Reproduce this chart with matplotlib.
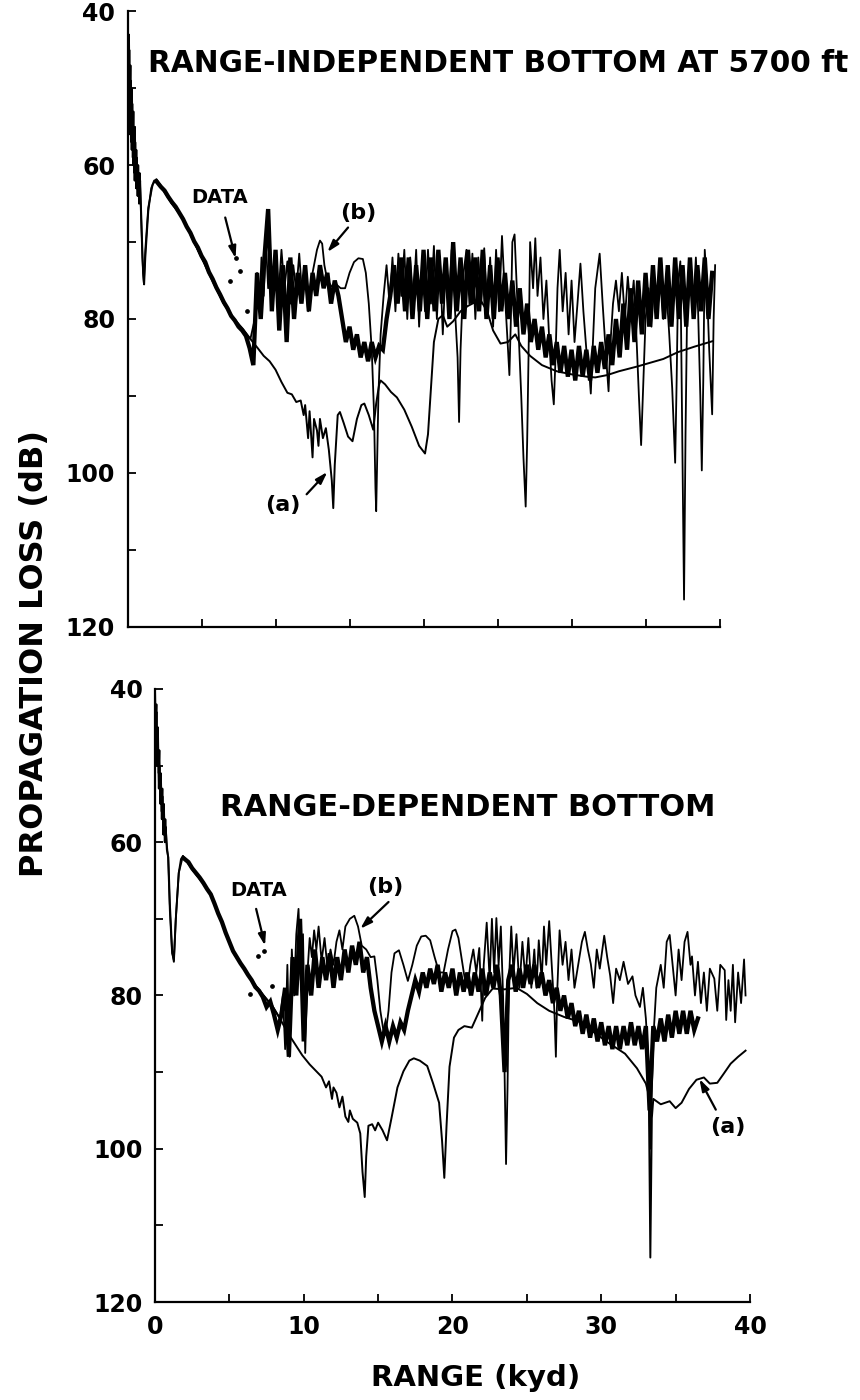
import numpy as np
import matplotlib.pyplot as plt
from matplotlib.ticker import MultipleLocator

plt.rcParams['font.family'] = ['DejaVu Sans']
plt.rcParams['font.weight'] = 'bold'

# ---- range-independent bottom (upper panel) ----
# model curve (a): (range kyd, loss dB)
TOP_A = [(0.0, 40), (0.08, 52), (0.12, 45), (0.18, 56), (0.22, 49), (0.28, 58), (0.32, 52),
         (0.38, 60), (0.42, 55), (0.48, 62), (0.52, 57), (0.58, 63), (0.62, 59), (0.68, 64),
         (0.72, 60), (0.78, 65), (0.85, 62), (0.95, 68), (1.05, 74), (1.12, 75.5), (1.2, 72),
         (1.4, 66), (1.6, 63), (1.8, 62), (1.95, 61.9), (2.1, 62.3), (2.5, 63.5), (3.0, 65),
         (3.7, 66.8), (4.5, 70), (5.0, 72), (5.7, 74.9), (6.5, 78), (7.2, 80), (7.8, 81.3),
         (8.3, 82.6), (8.8, 83.8), (9.2, 84.8), (9.6, 85.5), (10.0, 86.6), (10.4, 88.2),
         (10.8, 89.6), (11.1, 89.8), (11.4, 90.8), (11.7, 90.6), (11.9, 92.5), (12.0, 91.2),
         (12.2, 95.5), (12.3, 92), (12.5, 98), (12.6, 93), (12.8, 94.5), (12.9, 96.5),
         (13.0, 93), (13.2, 95.5), (13.4, 94.2), (13.6, 97), (13.8, 101), (13.9, 104.6),
         (14.0, 99), (14.2, 92.5), (14.35, 92.1), (14.6, 93.5), (14.9, 95.3), (15.2, 95.9),
         (15.5, 93), (15.8, 91.2), (16.0, 91), (16.3, 92.5), (16.6, 94.4), (16.8, 91),
         (17.0, 88.5), (17.1, 88), (17.4, 88.5), (17.8, 89.5), (18.2, 90.2), (18.7, 91.8),
         (19.2, 94), (19.7, 96.5), (20.1, 97.5), (20.3, 95), (20.5, 89), (20.7, 83), (21.0, 80),
         (21.3, 79.5), (21.6, 81), (22.0, 80.3), (22.5, 79), (23.0, 78.3), (23.5, 77.8),
         (23.9, 77.7), (24.3, 79), (24.7, 81.5), (25.2, 83.2), (25.7, 83), (26.2, 82),
         (26.6, 83.5), (27.2, 84.8), (28.0, 86), (29.0, 86.8), (30.0, 87.2), (31.0, 87.5),
         (31.6, 87.6), (32.4, 87.3), (33.2, 86.8), (34.4, 86.2), (35.3, 85.7), (36.2, 85.2),
         (37.2, 84.3), (38.3, 83.6), (39.5, 82.9)]

# model curve (b)
TOP_B = [(0.0, 41), (0.05, 47), (0.1, 43), (0.15, 53), (0.2, 47), (0.25, 57), (0.3, 50),
         (0.35, 59), (0.4, 53), (0.45, 61), (0.5, 55), (0.55, 62), (0.6, 58), (0.65, 63),
         (0.7, 60), (0.75, 64), (0.82, 61), (0.9, 66), (1.0, 72), (1.1, 75.3), (1.2, 71),
         (1.4, 65.5), (1.7, 62.5), (1.95, 61.8), (2.3, 62.8), (3.0, 65), (3.7, 66.7), (4.5, 70),
         (5.7, 74.8), (6.5, 78), (7.2, 80), (7.8, 81.4), (8.3, 82.6), (8.6, 80), (8.75, 74),
         (8.9, 79), (9.05, 72), (9.2, 77), (9.35, 70), (9.5, 76), (9.65, 71), (9.8, 78),
         (10.0, 72), (10.2, 77), (10.4, 71), (10.6, 76), (10.8, 72.5), (11.0, 78), (11.2, 73),
         (11.4, 76.5), (11.6, 71.5), (11.8, 77), (12.0, 74), (12.2, 79), (12.4, 75), (12.6, 73),
         (12.8, 71), (13.0, 69.8), (13.15, 70.2), (13.3, 73), (13.5, 75), (13.8, 75.8),
         (14.1, 75.5), (14.4, 76), (14.7, 76), (15.0, 74), (15.3, 72.6), (15.6, 72.1),
         (15.9, 72.2), (16.1, 74), (16.3, 78), (16.5, 84), (16.65, 92), (16.75, 102),
         (16.8, 105), (16.85, 100), (16.95, 90), (17.1, 82), (17.3, 77), (17.5, 73),
         (17.7, 78), (17.9, 72), (18.1, 79), (18.3, 71.5), (18.5, 77), (18.7, 71), (18.9, 80),
         (19.1, 72), (19.3, 78), (19.5, 71), (19.7, 81), (19.9, 73), (20.1, 79), (20.3, 71),
         (20.5, 78), (20.7, 70.5), (20.9, 80), (21.1, 72), (21.3, 82), (21.5, 73), (21.7, 79),
         (21.9, 71), (22.1, 78), (22.3, 85), (22.4, 93.4), (22.5, 84), (22.7, 74), (22.9, 71),
         (23.1, 78), (23.3, 71.5), (23.5, 80), (23.7, 72), (23.9, 78), (24.1, 70.8), (24.3, 79),
         (24.5, 72), (24.7, 81), (24.9, 71), (25.1, 79), (25.3, 69.2), (25.5, 77), (25.65, 82),
         (25.8, 87.3), (25.9, 80), (26.0, 70), (26.15, 69), (26.3, 76), (26.45, 83), (26.6, 90),
         (26.75, 98), (26.9, 104.4), (27.0, 96), (27.1, 84), (27.2, 70), (27.4, 76),
         (27.55, 69.5), (27.7, 77), (27.9, 72), (28.1, 80), (28.3, 75), (28.5, 83), (28.65, 88),
         (28.8, 91.1), (28.9, 86), (29.05, 76), (29.2, 71), (29.4, 79), (29.6, 74), (29.8, 82),
         (30.0, 75), (30.2, 83), (30.4, 78), (30.6, 72.8), (30.8, 79), (31.0, 84), (31.2, 87),
         (31.3, 89.7), (31.4, 85), (31.6, 76), (31.9, 71.5), (32.1, 78), (32.3, 84),
         (32.5, 89.4), (32.6, 84), (32.8, 78), (33.0, 75), (33.2, 79), (33.4, 74), (33.6, 80),
         (33.8, 74.5), (34.0, 79), (34.2, 75), (34.4, 83), (34.55, 90), (34.7, 96.4),
         (34.85, 88), (35.0, 80), (35.2, 76), (35.4, 81), (35.6, 75), (35.8, 79), (36.0, 74),
         (36.2, 80), (36.4, 76), (36.6, 82), (36.8, 89), (37.0, 98.7), (37.1, 88), (37.2, 75),
         (37.35, 72.5), (37.45, 90), (37.6, 116.5), (37.7, 95), (37.8, 80), (38.0, 74),
         (38.2, 79), (38.4, 72), (38.55, 79), (38.7, 90), (38.8, 99.7), (38.9, 88), (39.0, 71),
         (39.15, 76), (39.3, 84), (39.5, 92.4), (39.6, 80), (39.7, 73)]

# measured loss, sampled every 0.25 kyd from 2.0 kyd
DATA_START = 2.0
DATA_STEP = 0.25
TOP_DATA = [62.2, 62.8, 63.3, 64.1, 64.8, 65.4, 66.2, 67.0, 68.0, 68.8, 69.9, 70.7, 71.8, 72.6,
            73.9, 74.8, 75.9, 76.8, 77.8, 78.6, 79.6, 80.2, 81.0, 81.5, 82.2, 83.8, 86.0,
            74, 80, 72, 65.7, 79, 71, 81.5, 73, 83, 72, 80, 74, 78, 73, 79, 74, 77, 73, 76, 74,
            78, 75, 77,
            80, 83, 81, 84, 82, 85, 83, 85.5, 83, 85, 83.5, 84,
            80, 77, 73, 78, 72, 79, 72, 80, 73, 79, 71, 80, 72, 79, 71, 78, 72, 80, 70, 79, 72,
            80, 71, 78, 72, 79, 71, 80, 73, 80, 72, 79, 74, 80, 75, 81, 76, 82, 78, 83, 80, 84,
            81, 85, 82, 86, 83, 87, 83.5, 87.5, 84, 88, 83.5, 87.5, 84, 88, 83.5, 87, 83, 86.5,
            82, 86, 80, 85, 78, 84,
            76, 83, 75, 82, 74, 81, 73, 80, 72, 80, 73, 81, 72, 80, 73, 81, 72, 80, 73, 79, 72,
            80, 74]
TOP_DATA_DOTS = [(6.9, 75.0), (7.3, 72.1), (7.6, 73.8), (8.1, 79.0)]

# ---- range-dependent bottom (lower panel) ----
BOT_A = [(0.0, 40), (0.06, 46), (0.1, 43), (0.16, 50), (0.2, 47), (0.26, 53), (0.3, 50),
         (0.36, 55), (0.4, 52), (0.46, 57), (0.5, 54), (0.56, 59), (0.6, 56), (0.66, 60),
         (0.72, 58), (0.8, 61), (0.9, 62), (1.0, 68), (1.15, 74), (1.27, 75.6), (1.4, 70),
         (1.6, 64), (1.75, 62.2), (1.88, 61.8), (2.1, 62.4), (2.6, 63.8), (3.2, 65.2),
         (3.74, 66.7), (4.3, 69.5), (4.8, 72), (5.33, 74.6), (6.0, 76.5), (6.6, 78.3),
         (7.2, 79.8), (7.9, 81.4), (8.4, 83), (8.9, 84.8), (9.4, 86.3), (9.9, 87.8), (10.4, 89),
         (10.8, 89.8), (11.2, 90.6), (11.5, 92), (11.7, 91.2), (11.9, 93.5), (12.0, 92),
         (12.2, 92.7), (12.4, 94.6), (12.6, 93.2), (12.8, 95.8), (13.0, 96.5), (13.1, 95),
         (13.3, 96.1), (13.6, 96.6), (13.8, 98), (13.95, 103), (14.1, 106.3), (14.2, 101),
         (14.35, 97), (14.6, 96.8), (14.8, 97.6), (15.0, 96.6), (15.3, 97.6), (15.6, 98.9),
         (15.9, 96), (16.3, 92), (16.7, 89.9), (17.1, 88.5), (17.4, 88.2), (17.8, 88.5),
         (18.3, 89.2), (18.7, 91.5), (19.1, 94), (19.3, 99), (19.45, 103.8), (19.6, 97),
         (19.8, 89.3), (20.1, 85.5), (20.4, 84.5), (20.8, 84), (21.3, 84.2), (21.9, 81.6),
         (22.2, 80.3), (22.7, 79.1), (23.5, 79.2), (24.3, 79), (25.0, 79.8), (25.7, 81),
         (26.5, 82), (27.5, 82.8), (28.5, 83.4), (29.5, 84.8), (30.5, 86.2), (31.6, 87.6),
         (32.4, 89.5), (33.0, 91.5), (33.2, 93), (33.3, 114.2), (33.4, 96), (33.5, 93.5),
         (34.0, 94.2), (34.6, 93.8), (35.0, 94.7), (35.4, 94), (35.9, 92.2), (36.4, 91),
         (36.9, 90.7), (37.3, 91.5), (37.8, 91.4), (38.2, 90.3), (38.7, 88.9), (39.2, 88),
         (39.7, 87.2)]

BOT_B = [(0.0, 41), (0.05, 45), (0.1, 42), (0.15, 48), (0.2, 45), (0.25, 51), (0.3, 48),
         (0.35, 54), (0.4, 51), (0.45, 56), (0.5, 53), (0.55, 58), (0.6, 55), (0.65, 59),
         (0.7, 57), (0.78, 60), (0.88, 62), (1.0, 69), (1.15, 74.5), (1.27, 75.4), (1.4, 70),
         (1.6, 64), (1.88, 61.8), (2.6, 63.8), (3.74, 66.7), (4.8, 72), (5.33, 74.6),
         (6.6, 78.3), (7.9, 81.4), (8.4, 83), (8.6, 80), (8.75, 87), (8.9, 76), (9.05, 88),
         (9.2, 74), (9.35, 80), (9.5, 72), (9.65, 68.7), (9.8, 78), (9.95, 72), (10.1, 87.5),
         (10.25, 77), (10.4, 72.5), (10.55, 75), (10.7, 71.5), (10.85, 74), (11.0, 71),
         (11.2, 75.5), (11.4, 72.5), (11.6, 76.5), (11.8, 74), (12.0, 76), (12.2, 73),
         (12.4, 71.5), (12.6, 74), (12.8, 71), (13.1, 70), (13.4, 69.6), (13.65, 71),
         (13.9, 73.5), (14.2, 74), (14.5, 75), (14.75, 74.9), (14.95, 78), (15.15, 82),
         (15.35, 84.5), (15.5, 85.1), (15.7, 82), (15.9, 77), (16.1, 74.5), (16.4, 74.1),
         (16.7, 76), (17.0, 78.1), (17.3, 76), (17.6, 73.5), (17.9, 72.3), (18.2, 72.2),
         (18.5, 72.8), (18.8, 75), (19.1, 77), (19.4, 77), (19.7, 74), (20.0, 71.6),
         (20.2, 71.4), (20.4, 72.5), (20.6, 75), (20.8, 77.5), (21.0, 79), (21.2, 76),
         (21.4, 74), (21.6, 77), (21.8, 73.8), (22.0, 83.3), (22.1, 76), (22.3, 70.5),
         (22.5, 78), (22.65, 70), (22.8, 77), (22.95, 69.9), (23.1, 76), (23.25, 71), (23.4, 80),
         (23.5, 90), (23.6, 102), (23.7, 92), (23.8, 78), (23.95, 71), (24.1, 77), (24.3, 72),
         (24.5, 79), (24.7, 73), (24.9, 78), (25.1, 72.5), (25.3, 79), (25.5, 74), (25.65, 79),
         (25.8, 72.8), (26.0, 78), (26.15, 71), (26.3, 76), (26.5, 70.3), (26.7, 77),
         (26.85, 82), (26.95, 88), (27.05, 79), (27.2, 71.5), (27.4, 76), (27.6, 73), (27.8, 78),
         (28.0, 74), (28.2, 79), (28.45, 76), (28.7, 73), (28.9, 71.7), (29.1, 74), (29.3, 75.9),
         (29.5, 79), (29.7, 74), (29.9, 76.5), (30.2, 72.2), (30.4, 75), (30.6, 77.4),
         (30.8, 81), (31.0, 76.5), (31.25, 78), (31.5, 75.6), (31.8, 78.5), (32.1, 77.5),
         (32.3, 80), (32.6, 81.5), (32.8, 79), (33.0, 83), (33.15, 88), (33.3, 100), (33.4, 92),
         (33.55, 84), (33.7, 79), (34.0, 76), (34.2, 79), (34.4, 73), (34.6, 72.1), (34.8, 76),
         (35.0, 80), (35.2, 74), (35.4, 78), (35.6, 73), (35.8, 71.7), (36.0, 76), (36.1, 74.9),
         (36.3, 80), (36.5, 75.6), (36.7, 81), (36.9, 77), (37.1, 82), (37.3, 76.5),
         (37.6, 77.8), (37.8, 82), (38.0, 76), (38.3, 76.7), (38.4, 83.2), (38.55, 78),
         (38.7, 82), (38.85, 76), (39.0, 83.5), (39.2, 77), (39.4, 81), (39.6, 75.3), (39.7, 80)]

BOT_DATA = [62.2, 62.6, 63.4, 64.0, 64.6, 65.3, 66.1, 66.8, 68.0, 69.3, 70.4, 71.8, 73.0, 74.2,
            75.0, 75.8, 76.5, 77.3, 78.0, 78.9, 79.4, 80.2, 81.5, 80.8, 82.5, 84.5, 82.5,
            79, 88, 75, 80, 70, 86, 76, 80, 74, 79, 75, 78, 74.5, 79, 75, 78, 74, 77, 73.5, 76,
            73, 77, 75,
            79, 82, 84, 86, 84, 86, 84, 85.5, 83.5, 84.5, 82, 80,
            78, 79.5, 77, 79, 76.5, 78.5, 76, 79.5, 77, 79, 76.5, 80, 77, 79.5, 77, 80, 77, 79.5,
            76.5, 80, 77, 79, 76, 80, 90, 78, 76, 79.5, 76.5, 79, 76, 78.5, 76, 79, 77, 80, 78,
            81, 79, 82, 80, 83,
            81, 84, 82, 85, 82.5, 85.5, 83, 86, 83.5, 86.5, 84, 87, 84, 87, 84, 86.5, 83.5, 86.5,
            84, 87, 84, 95, 84, 86, 83, 86, 82.5, 85.5, 82, 85, 82, 85, 82, 84.5, 83]
BOT_DATA_DOTS = [(6.4, 79.8), (6.9, 74.8), (7.3, 74.2), (7.9, 78.7)]

Y_RANGE = (120, 40)
X_RANGE = (0, 40)


def style_axis(ax, tick_labels_x):
    ax.set_xlim(*X_RANGE)
    ax.set_ylim(*Y_RANGE)
    ax.spines['top'].set_visible(False)
    ax.spines['right'].set_visible(False)
    ax.spines['left'].set_linewidth(1.6)
    ax.spines['bottom'].set_linewidth(1.6)
    ax.xaxis.set_major_locator(MultipleLocator(10))
    ax.xaxis.set_minor_locator(MultipleLocator(5))
    ax.yaxis.set_major_locator(MultipleLocator(20))
    ax.yaxis.set_minor_locator(MultipleLocator(10))
    ax.tick_params(which='both', direction='in', length=6, width=1.3, labelsize=17)
    ax.tick_params(axis='y', pad=9)
    ax.tick_params(axis='x', pad=9, labelbottom=tick_labels_x)
    for lab in ax.get_xticklabels() + ax.get_yticklabels():
        lab.set_fontweight('bold')


def draw_panel(ax, curve_a, curve_b, data, dots):
    ra, la = np.array(curve_a).T
    rb, lb = np.array(curve_b).T
    rd = DATA_START + DATA_STEP * np.arange(len(data))
    ax.plot(ra, la, color='black', lw=1.4, zorder=3)
    ax.plot(rb, lb, color='black', lw=1.3, zorder=3)
    ax.plot(rd, data, color='black', lw=3.1, zorder=4, solid_joinstyle='miter')
    dr, dl = np.array(dots).T
    ax.plot(dr, dl, 'o', color='black', ms=2.4, zorder=4)


def tag(ax, text, text_at, tail, tip, size=16):
    ax.text(text_at[0], text_at[1], text, ha='center', va='center',
            fontsize=size, fontweight='bold', zorder=6)
    ax.annotate('', xy=tip, xytext=tail,
                arrowprops=dict(arrowstyle='-|>,head_length=0.7,head_width=0.22',
                                color='black', lw=1.6, shrinkA=0, shrinkB=0), zorder=6)


fig = plt.figure(figsize=(8.6, 14), dpi=100)
ax_top = fig.add_axes([0.1483, 0.5525, 0.6884, 0.4393])
ax_bot = fig.add_axes([0.1802, 0.07, 0.6919, 0.4379])

draw_panel(ax_top, TOP_A, TOP_B, TOP_DATA, TOP_DATA_DOTS)
draw_panel(ax_bot, BOT_A, BOT_B, BOT_DATA, BOT_DATA_DOTS)
style_axis(ax_top, False)
style_axis(ax_bot, True)

tag(ax_top, 'DATA', (6.2, 64.2), (6.6, 66.8), (7.3, 72.1), size=14)
tag(ax_top, '(b)', (15.6, 66.2), (14.9, 68.1), (13.5, 71.3))
tag(ax_top, '(a)', (10.5, 104.2), (12.1, 102.8), (13.5, 99.9))
tag(ax_bot, 'DATA', (7.0, 66.3), (6.8, 68.7), (7.4, 73.5), size=14)
tag(ax_bot, '(b)', (15.5, 65.8), (15.7, 67.8), (13.8, 71.3))
tag(ax_bot, '(a)', (38.5, 97.2), (37.7, 94.9), (36.6, 90.9))

fig.text(148 / 860, 1 - 72 / 1400, 'RANGE-INDEPENDENT BOTTOM AT 5700 ft',
         fontsize=21.3, fontweight='bold', ha='left', va='baseline')
fig.text(220 / 860, 1 - 816 / 1400, 'RANGE-DEPENDENT BOTTOM',
         fontsize=22, fontweight='bold', ha='left', va='baseline')
fig.text(35 / 860, 1 - 654 / 1400, 'PROPAGATION LOSS (dB)', rotation=90,
         fontsize=23, fontweight='bold', ha='center', va='center')
fig.text(476 / 860, 1 - 1378 / 1400, 'RANGE (kyd)',
         fontsize=21, fontweight='bold', ha='center', va='center')

fig.savefig('out.png', dpi=100)
